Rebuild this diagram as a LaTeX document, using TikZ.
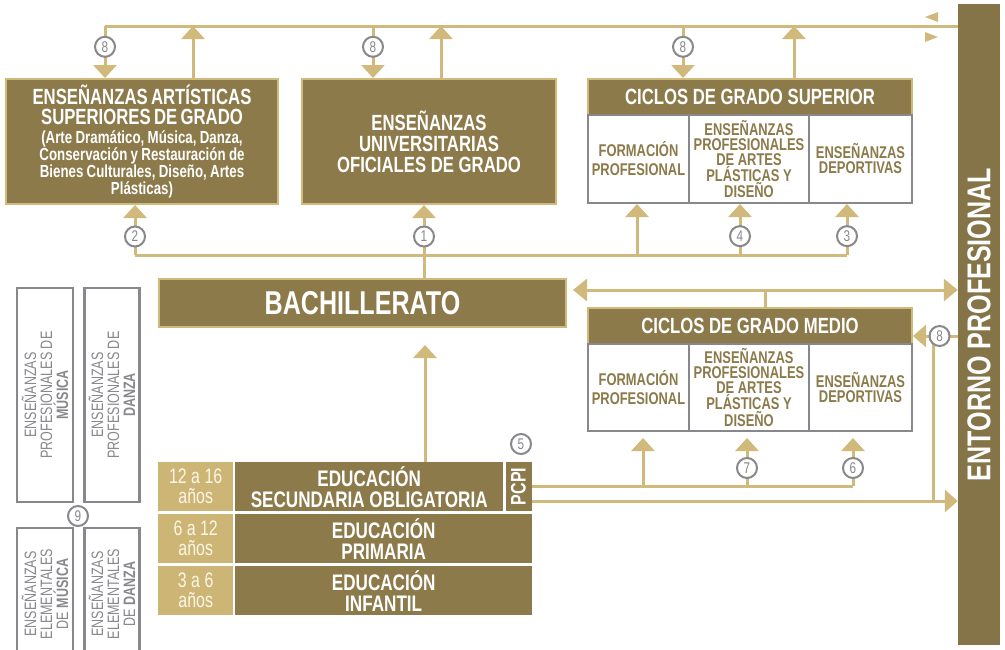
\documentclass[tikz,border=0pt]{standalone}
\usepackage{fontspec}
\setmainfont[FakeStretch=0.76]{Liberation Sans}
\usetikzlibrary{arrows.meta}
\definecolor{brownbox}{RGB}{140,122,74}
\definecolor{darkbar}{RGB}{133,116,72}
\definecolor{tanline}{RGB}{208,185,122}
\definecolor{tanbox}{RGB}{205,181,118}
\definecolor{agetext}{RGB}{252,246,230}
\definecolor{grayline}{RGB}{136,136,140}
\newcommand{\fsz}[2]{\fontsize{#1}{#2}\selectfont}
\tikzset{
  darkbox/.style={draw=tanline, fill=brownbox, line width=2pt, text=white, font=\bfseries, align=center, inner sep=0pt},
  cellbox/.style={draw=grayline, fill=white, line width=2pt, text=brownbox, font=\bfseries\fsz{17}{15}, align=center, inner sep=0pt},
  sidebox/.style={draw=grayline, fill=white, line width=2.5pt, text=grayline, font=\fsz{16.5}{16}, align=center, inner sep=0pt, rotate=90},
  agebox/.style={fill=tanbox, text=agetext, font=\fsz{21}{20}, align=center, inner sep=0pt},
  edubox/.style={fill=brownbox, text=white, font=\bfseries\fsz{22.5}{21}, align=center, inner sep=0pt},
  ln/.style={draw=tanline, line width=3pt},
  arr/.style={ln, -{Triangle[width=23pt,length=13pt]}},
  arrs/.style={ln, -{Triangle[width=22pt,length=13pt]}},
  num/.style={circle, draw=grayline, fill=white, line width=2pt, inner sep=0pt, minimum size=20pt, text=grayline, font=\fsz{15.5}{15}}
}
\begin{document}
\begin{tikzpicture}[x=1pt,y=-1pt]
  \useasboundingbox (0,0) rectangle (1005,649);
  \clip (0,0) rectangle (1005,649);

  % upper row
  \node[darkbox, anchor=north west, minimum width=272, minimum height=125, text width=264] (art) at (5,78)
    {{\fsz{22}{20}ENSEÑANZAS ARTÍSTICAS\\SUPERIORES DE GRADO\par}\vspace{4pt}
     {\fsz{17.5}{14.5}(Arte Dramático, Música, Danza,\\Conservación y Restauración de\\Bienes Culturales, Diseño, Artes\\Plásticas)\par}};
  \node[darkbox, anchor=north west, minimum width=254, minimum height=125, font=\bfseries\fsz{22}{21}] (uni) at (301,78)
    {ENSEÑANZAS\\UNIVERSITARIAS\\OFICIALES DE GRADO};
  \node[darkbox, anchor=north west, minimum width=324, minimum height=36, font=\bfseries\fsz{22}{20}] (gsh) at (587,78)
    {CICLOS DE GRADO SUPERIOR};
  \node[cellbox, anchor=north west, minimum width=101, minimum height=88] (gs1) at (587,114) {FORMACIÓN\\[4pt]PROFESIONAL};
  \node[cellbox, anchor=north west, minimum width=120, minimum height=88] (gs2) at (688,114) {ENSEÑANZAS\\PROFESIONALES\\DE ARTES\\PLÁSTICAS Y\\DISEÑO};
  \node[cellbox, anchor=north west, minimum width=103, minimum height=88] (gs3) at (808,114) {ENSEÑANZAS\\DEPORTIVAS};

  \node[fill=darkbar, rotate=90, minimum width=641, minimum height=42, inner sep=0pt, text=white, font=\bfseries\fsz{33}{33}] (ent) at (979,324.5)
    {ENTORNO PROFESIONAL};

  % middle row
  \node[darkbox, anchor=north west, minimum width=407, minimum height=48, font=\bfseries\fsz{33}{33}] (bach) at (158,278) {BACHILLERATO};
  \node[darkbox, anchor=north west, minimum width=324, minimum height=36, font=\bfseries\fsz{22}{20}] (gmh) at (587,307)
    {CICLOS DE GRADO MEDIO};
  \node[cellbox, anchor=north west, minimum width=101, minimum height=87] (gm1) at (587,343) {FORMACIÓN\\[4pt]PROFESIONAL};
  \node[cellbox, anchor=north west, minimum width=120, minimum height=87] (gm2) at (688,343) {ENSEÑANZAS\\PROFESIONALES\\DE ARTES\\PLÁSTICAS Y\\DISEÑO};
  \node[cellbox, anchor=north west, minimum width=103, minimum height=87] (gm3) at (808,343) {ENSEÑANZAS\\DEPORTIVAS};

  % side boxes
  \node[sidebox, minimum width=214, minimum height=56] (pm) at (45,395) {ENSEÑANZAS\\PROFESIONALES DE\\\textbf{MÚSICA}};
  \node[sidebox, minimum width=214, minimum height=55] (pd) at (112,395) {ENSEÑANZAS\\PROFESIONALES DE\\\textbf{DANZA}};
  \node[sidebox, minimum width=132, minimum height=56] (em) at (45,594) {ENSEÑANZAS\\ELEMENTALES\\DE \textbf{MÚSICA}};
  \node[sidebox, minimum width=132, minimum height=55] (ed) at (112,594) {ENSEÑANZAS\\ELEMENTALES\\DE \textbf{DANZA}};
  \node[num] (n9) at (78,516) {9};

  % lower rows
  \node[agebox, anchor=north west, minimum width=75, minimum height=49] (a1) at (158,462) {12 a 16\\años};
  \node[edubox, anchor=north west, minimum width=268, minimum height=49] (eso) at (235,462) {EDUCACIÓN\\SECUNDARIA OBLIGATORIA};
  \node[edubox, rotate=90, minimum width=49, minimum height=26, font=\bfseries\fsz{21}{21}] (pcpi) at (518.5,486.5) {PCPI};
  \node[agebox, anchor=north west, minimum width=75, minimum height=49] (a2) at (158,514) {6 a 12\\años};
  \node[edubox, anchor=north west, minimum width=297, minimum height=49] (pri) at (235,514) {EDUCACIÓN\\PRIMARIA};
  \node[agebox, anchor=north west, minimum width=75, minimum height=49] (a3) at (158,566) {3 a 6\\años};
  \node[edubox, anchor=north west, minimum width=297, minimum height=49] (inf) at (235,566) {EDUCACIÓN\\INFANTIL};
  \node[num] (n5) at (521,444) {5};

  % top line
  \coordinate (t8a) at (105,26);
  \coordinate (tua) at (193,26);
  \coordinate (t8b) at (373,26);
  \coordinate (tub) at (441,26);
  \coordinate (t8c) at (683,26);
  \coordinate (tuc) at (794,26);
  \draw[ln] (t8a) -- (t8a -| ent.north);
  \draw[arr] (t8a) -- node[num, pos=.4] {8} (t8a |- art.north);
  \draw[arr] (tua |- art.north) -- (tua);
  \draw[arr] (t8b) -- node[num, pos=.4] {8} (t8b |- uni.north);
  \draw[arr] (tub |- uni.north) -- (tub);
  \draw[arr] (t8c) -- node[num, pos=.4] {8} (t8c |- gsh.north);
  \draw[arr] (tuc |- gsh.north) -- (tuc);
  \fill[tanline] (925,17) -- (938,12) -- (938,22) -- cycle;
  \fill[tanline] (938,37) -- (925,32) -- (925,42) -- cycle;

  % bus under the upper row
  \coordinate (b2) at (135,255);
  \coordinate (b1) at (424,255);
  \coordinate (bf) at (637,255);
  \coordinate (b4) at (740,255);
  \coordinate (b3) at (847,255);
  \draw[ln] (b2) -- (b3);
  \draw[ln] (b1) -- (b1 |- bach.north);
  \draw[arr] (b2) -- node[num, pos=.37] {2} (b2 |- art.south);
  \draw[arr] (b1) -- node[num, pos=.37] {1} (b1 |- uni.south);
  \draw[arr] (bf) -- (bf |- gs1.south);
  \draw[arr] (b4) -- node[num, pos=.37] {4} (b4 |- gs2.south);
  \draw[arr] (b3) -- node[num, pos=.37] {3} (b3 |- gs3.south);

  % bachillerato and grado medio
  \coordinate (m1) at (573,290);
  \coordinate (ms) at (765,290);
  \draw[ln, {Triangle[width=22pt,length=14pt]}-{Triangle[width=22pt,length=14pt]}] (m1) -- (m1 -| ent.north);
  \draw[ln] (ms) -- (ms |- gmh.north);
  \coordinate (bt) at (425,345);
  \draw[arr] (bt |- eso.north) -- (bt);

  % lines to the right
  \coordinate (e8) at (958,336);
  \coordinate (v8) at (933,336);
  \coordinate (lo) at (700,501);
  \draw[ln] (v8) -- (v8 |- lo);
  \draw[arrs] (e8) -- node[num, pos=.41] {8} (e8 -| gmh.east);
  \draw[arrs] (lo -| pcpi.south) -- (lo -| ent.north);

  % from pcpi to grado medio
  \coordinate (gt) at (0,438);
  \coordinate (gf) at (643,486);
  \coordinate (g7) at (747,486);
  \coordinate (g6) at (853,486);
  \draw[ln] (g6 -| pcpi.south) -- (g6);
  \draw[arr] (gf) -- (gf |- gt);
  \draw[arr] (g7) -- node[num, pos=.375] {7} (g7 |- gt);
  \draw[arr] (g6) -- node[num, pos=.375] {6} (g6 |- gt);
\end{tikzpicture}
\end{document}
